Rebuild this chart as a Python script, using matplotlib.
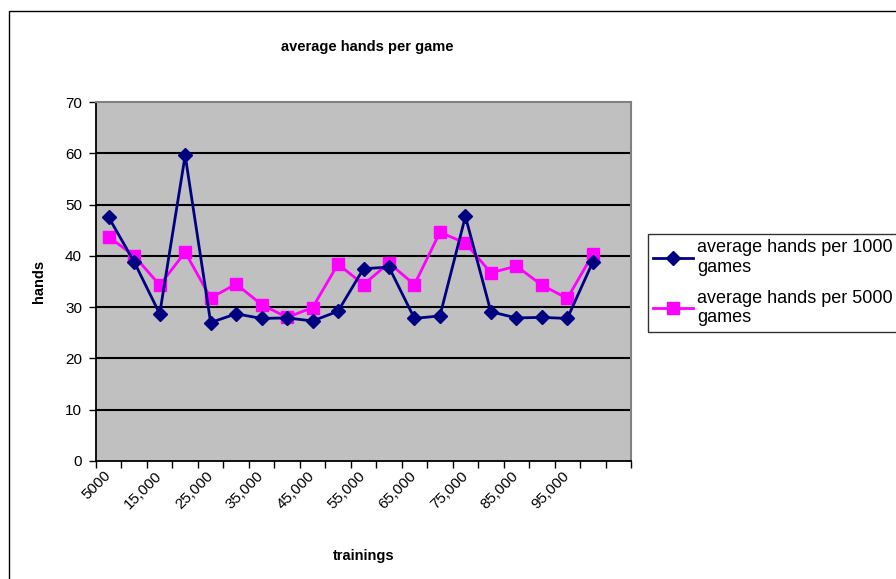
import matplotlib
matplotlib.use("Agg")
import matplotlib.pyplot as plt
from matplotlib.patches import Rectangle

# training counts (last category slot is left empty)
trainings = ["5000"] + [f"{n:,}" for n in range(10000, 100001, 5000)] + [""]
per_1000 = [47.5, 38.8, 28.7, 59.6, 27.0, 28.7, 27.8, 27.9, 27.3, 29.2,
            37.5, 37.8, 27.8, 28.3, 47.7, 29.1, 27.9, 28.0, 27.8, 38.8]
per_5000 = [43.7, 40.0, 34.3, 40.7, 31.8, 34.5, 30.5, 28.0, 29.9, 38.4,
            34.4, 38.6, 34.4, 44.6, 42.5, 36.7, 38.0, 34.3, 31.7, 40.3]
yticks = [0, 10, 20, 30, 40, 50, 60, 70]

plt.rcParams["font.family"] = ["Liberation Sans", "DejaVu Sans"]

W, H = 896, 579
fig = plt.figure(figsize=(W / 100, H / 100), dpi=100)
fig.patch.set_facecolor("white")

# outer chart frame
fig.patches.append(Rectangle((9 / W, -0.1), 1.2, 1 - 11 / H + 0.1,
                             transform=fig.transFigure, fill=False,
                             edgecolor="black", linewidth=1.0))

ax = fig.add_axes([96 / W, (H - 461) / H, 535 / W, 359 / H])
ax.set_facecolor("#c0c0c0")

n = len(trainings)
xs = list(range(len(per_1000)))

for y in yticks[1:-1]:
    ax.axhline(y, color="black", linewidth=1.5, zorder=1)

ax.plot(xs, per_1000, color="#000080", linewidth=2, marker="D",
        markersize=7.5, markerfacecolor="#000080", markeredgecolor="#000080",
        label="average hands per 1000\ngames", zorder=3)
ax.plot(xs, per_5000, color="#ff00ff", linewidth=2, marker="s",
        markersize=8.5, markerfacecolor="#ff00ff", markeredgecolor="#ff00ff",
        label="average hands per 5000\ngames", zorder=2)

ax.set_xlim(-0.5, n - 0.5)
ax.set_ylim(0, 70)

ax.set_yticks(yticks)
ax.tick_params(axis="y", direction="out", length=5, width=1, labelsize=11,
               pad=5, colors="black")

# labels on every other category, tick marks on category boundaries
ax.set_xticks(range(0, n, 2))
ax.set_xticklabels(trainings[::2], rotation=45, ha="right", va="center",
                   rotation_mode="anchor", fontsize=11)
ax.tick_params(axis="x", which="major", length=0, pad=9)
ax.set_xticks([i - 0.5 for i in range(n + 1)], minor=True)
ax.tick_params(axis="x", which="minor", direction="out", length=5, width=1)

for side in ("left", "bottom"):
    ax.spines[side].set_color("black")
    ax.spines[side].set_linewidth(1.3)
for side in ("top", "right"):
    ax.spines[side].set_color("#808080")
    ax.spines[side].set_linewidth(1.5)

ax.set_ylabel("hands", fontsize=10.5, fontweight="bold", labelpad=14)
ax.set_xlabel("trainings", fontsize=10.5, fontweight="bold", labelpad=27)
fig.text(367 / W, 1 - 47 / H, "average hands per game", ha="center",
         va="center", fontsize=10.5, fontweight="bold")

leg = ax.legend(loc="upper left", bbox_to_anchor=(648 / W, 1 - 234 / H),
                bbox_transform=fig.transFigure, fontsize=13, frameon=True,
                fancybox=False, edgecolor="black", handlelength=2.2,
                handletextpad=0.2, borderpad=0.3, borderaxespad=0,
                labelspacing=0.75)
leg.get_frame().set_linewidth(1.0)

fig.savefig("out.png", dpi=100)
